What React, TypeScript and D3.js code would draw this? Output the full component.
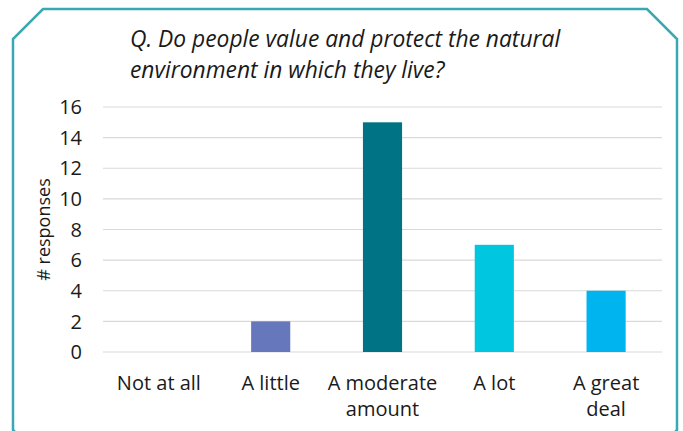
import React from "react";
import * as d3 from "d3";

const categories = ["Not at all", "A little", "A moderate amount", "A lot", "A great deal"];
const categoryLines = [["Not at all"], ["A little"], ["A moderate", "amount"], ["A lot"], ["A great", "deal"]];
const values = [0, 2, 15, 7, 4];
const barColors = ["#6677bb", "#6677bb", "#007385", "#00c6e0", "#00b4ef"];
const yTicks = [0, 2, 4, 6, 8, 10, 12, 14, 16];
const titleLines = ["Q. Do people value and protect the natural", "environment in which they live?"];
const yAxisLabel = "# responses";

const W = 683;
const H = 431;
const FONT = "'Open Sans', 'Noto Sans', sans-serif";

export default function App() {
  const x = d3.scaleBand<string>().domain(categories).range([103, 662]).paddingInner(0.65).paddingOuter(0.325);
  const y = d3.scaleLinear().domain([0, 16]).range([352, 107]);
  const c = 30;
  const L = 13, R = 677, T = 9, B = 460;
  const border = `M${L + c},${T} L${R - c},${T} L${R},${T + c} L${R},${B - c} L${R - c},${B} L${L + c},${B} L${L},${B - c} L${L},${T + c} Z`;
  return (
    <svg width={W} height={H} style={{ position: "absolute", left: 0, top: 0, display: "block" }}>
      <rect width={W} height={H} fill="#fff" />
      <path d={border} fill="none" stroke="#3aa8b2" strokeWidth={2.5} />
      {titleLines.map((t, i) => (
        <text key={i} x={130} y={47 + i * 31} fontFamily={FONT} fontStyle="italic" fontSize={22.8} fill="#1a1a1a">
          {t}
        </text>
      ))}
      {yTicks.map((t) => (
        <g key={t}>
          <line x1={103} x2={662} y1={y(t)} y2={y(t)} stroke="#d9d9d9" strokeWidth={1.2} />
          <text x={82} y={y(t)} dy="0.36em" textAnchor="end" fontFamily={FONT} fontSize={20} fill="#1a1a1a">
            {t}
          </text>
        </g>
      ))}
      <text transform={`translate(50,${y(8)}) rotate(-90)`} textAnchor="middle" fontFamily={FONT} fontSize={18} fill="#1a1a1a">
        {yAxisLabel}
      </text>
      {categories.map((cat, i) => (
        <rect key={cat} x={x(cat)} y={y(values[i])} width={x.bandwidth()} height={y(0) - y(values[i])} fill={barColors[i]} />
      ))}
      {categories.map((cat, i) => (
        <text key={cat} x={(x(cat) as number) + x.bandwidth() / 2} y={390} textAnchor="middle" fontFamily={FONT} fontSize={20} fill="#1a1a1a">
          {categoryLines[i].map((ln, j) => (
            <tspan key={j} x={(x(cat) as number) + x.bandwidth() / 2} dy={j === 0 ? 0 : 26}>
              {ln}
            </tspan>
          ))}
        </text>
      ))}
    </svg>
  );
}
